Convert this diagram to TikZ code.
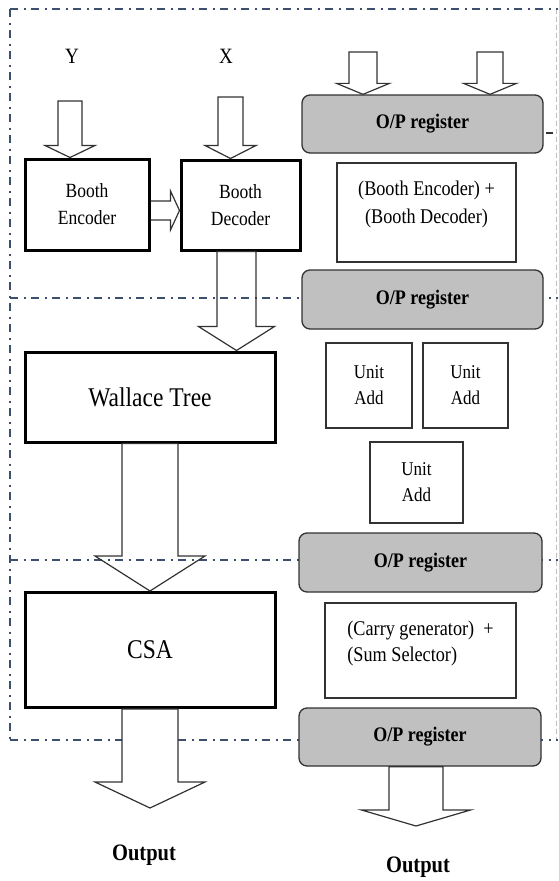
\documentclass[tikz,border=0pt]{standalone}
\usepackage{graphicx}
\usepackage{fontspec}
\setmainfont{Liberation Serif}
\usetikzlibrary{calc}
\definecolor{dashblue}{RGB}{60,80,110}
\definecolor{reggray}{RGB}{192,192,192}
\definecolor{edgegray}{RGB}{50,50,50}
\newcommand{\vs}[1]{\scalebox{1}[1.15]{#1}}
\newcommand{\varrow}[6]{%
  \draw[barrow,#1] let \p1=(#2), \p2=(#2 |- #3) in
    (\x1-#4pt,\y1) -- (\x1-#4pt,\y2+#6pt) -- (\x1-#5pt,\y2+#6pt) -- (\x2,\y2)
    -- (\x1+#5pt,\y2+#6pt) -- (\x1+#4pt,\y2+#6pt) -- (\x1+#4pt,\y1) -- cycle;}
\tikzset{
  dashdot/.style={draw=dashblue, line width=1.7pt, dash pattern=on 8pt off 5.5pt on 2pt off 5.5pt},
  faintline/.style={draw=black!25, line width=1pt, dash pattern=on 5pt off 3pt},
  barrow/.style={draw=edgegray, line width=1.2pt, line join=miter},
  thickbox/.style={draw=black, line width=3pt, fill=white, inner sep=0pt, align=center,
    font=\fontsize{17.5}{27}\selectfont},
  bigtext/.style={font=\fontsize{23.5}{27}\selectfont},
  thinbox/.style={draw=edgegray, line width=1.3pt, fill=white, inner sep=0pt, align=center},
  regbox/.style={draw=edgegray, fill=reggray, rounded corners=8pt, line width=1.3pt,
    minimum width=241pt, minimum height=58pt, inner sep=0pt,
    font=\fontsize{18}{20}\selectfont\bfseries},
  lblA/.style={align=center, font=\fontsize{18.2}{28}\selectfont},
  lblB/.style={align=left, font=\fontsize{18.2}{26}\selectfont},
  unitbox/.style={thinbox, font=\fontsize{17}{26}\selectfont},
  varlabel/.style={font=\fontsize{19}{20}\selectfont},
  outlabel/.style={font=\fontsize{20.5}{22}\selectfont\bfseries}
}
\begin{document}
\begin{tikzpicture}[x=1pt,y=-1pt]
\useasboundingbox (0,0) rectangle (558,881);
% stage separators
\draw[faintline] (556.5,9) -- (556.5,740);
\draw[dashdot] (10,9) -- (558,9);
\draw[dashdot] (10,9) -- (10,740);
\draw[dashdot] (10,298) -- (558,298);
\draw[dashdot] (10,560) -- (558,560);
\draw[dashdot] (10,740) -- (558,740);
\draw[draw=edgegray, line width=1.4pt] (546,133) -- (553,133);
% left column
\node[varlabel] (ylab) at (72,56) {\vs{Y}};
\node[varlabel] (xlab) at (226,56) {\vs{X}};
\node[thickbox, minimum width=124pt, minimum height=91pt] (enc) at (87,204.5) {\vs{Booth}\\\vs{Encoder}};
\node[thickbox, minimum width=119pt, minimum height=90pt] (dec) at (240.5,205) {\vs{Booth}\\\vs{Decoder}};
\node[thickbox, bigtext, minimum width=250pt, minimum height=90pt] (wal) at (150,397) {\vs{Wallace Tree}};
\node[thickbox, bigtext, minimum width=250pt, minimum height=115pt] (csa) at (150,650) {\vs{CSA}};
\node[outlabel] (out1) at (144,855) {\vs{Output}};
% right column
\node[regbox] (r1) at (422.5,124) {\vs{O/P register}};
\node[thinbox, minimum width=179pt, minimum height=99pt,
  label={[lblA, yshift=8pt]center:{\vs{(Booth Encoder) +}\\\vs{(Booth Decoder)}}}] (be) at (426.5,212.5) {};
\node[regbox, minimum height=59pt] (r2) at (422.5,299.5) {\vs{O/P register}};
\node[unitbox, minimum width=86pt, minimum height=85pt] (uA) at (369,385.5) {\vs{Unit}\\\vs{Add}};
\node[unitbox, minimum width=85pt, minimum height=85pt] (uB) at (465.5,385.5) {\vs{Unit}\\\vs{Add}};
\node[unitbox, minimum width=93pt, minimum height=81pt] (uC) at (416.5,482.5) {\vs{Unit}\\\vs{Add}};
\node[regbox, minimum width=243pt, minimum height=59pt] (r3) at (420.5,562.5) {\vs{O/P register}};
\node[thinbox, minimum width=191pt, minimum height=95pt,
  label={[lblB, yshift=7pt]center:{\vs{(Carry generator) \ +}\\\vs{(Sum Selector)}}}] (cs) at (420.5,650.5) {};
\node[regbox, minimum width=242pt] (r4) at (420,737) {\vs{O/P register}};
\node[outlabel] (out2) at (418,867) {\vs{Output}};
% arrow anchors
\coordinate (yt) at (70,101);
\coordinate (xt) at (230.5,97);
\coordinate (d1) at ([xshift=-4pt]dec.south);
\coordinate (o1) at (150,808);
\coordinate (a1) at (363,52);
\coordinate (a2) at (490,52);
\coordinate (r4b) at ([xshift=-4pt]r4.south);
\coordinate (o2) at (416,826);
\coordinate (h1) at ([yshift=-6pt]enc.east);
% block arrows
\varrow{}{yt}{enc.north}{12}{25}{12}
\varrow{}{xt}{dec.north}{12.5}{25.5}{13}
\varrow{}{d1}{wal.north}{19.5}{38}{24}
\varrow{}{wal.south}{csa.north}{28}{55}{35}
\varrow{fill=white}{csa.south}{o1}{28}{55}{26}
\varrow{}{a1}{r1.north}{14}{26.5}{11}
\varrow{}{a2}{r1.north}{13}{26.5}{11}
\varrow{fill=white}{r4b}{o2}{27}{54.5}{16}
\draw[barrow] let \p1=(h1), \p2=(h1 -| dec.west) in
  (\x1,\y1+9.5pt) -- (\x2-9pt,\y1+9.5pt) -- (\x2-9pt,\y1+19.5pt) -- (\x2,\y1)
  -- (\x2-9pt,\y1-19.5pt) -- (\x2-9pt,\y1-9.5pt) -- (\x1,\y1-9.5pt);
\end{tikzpicture}
\end{document}
